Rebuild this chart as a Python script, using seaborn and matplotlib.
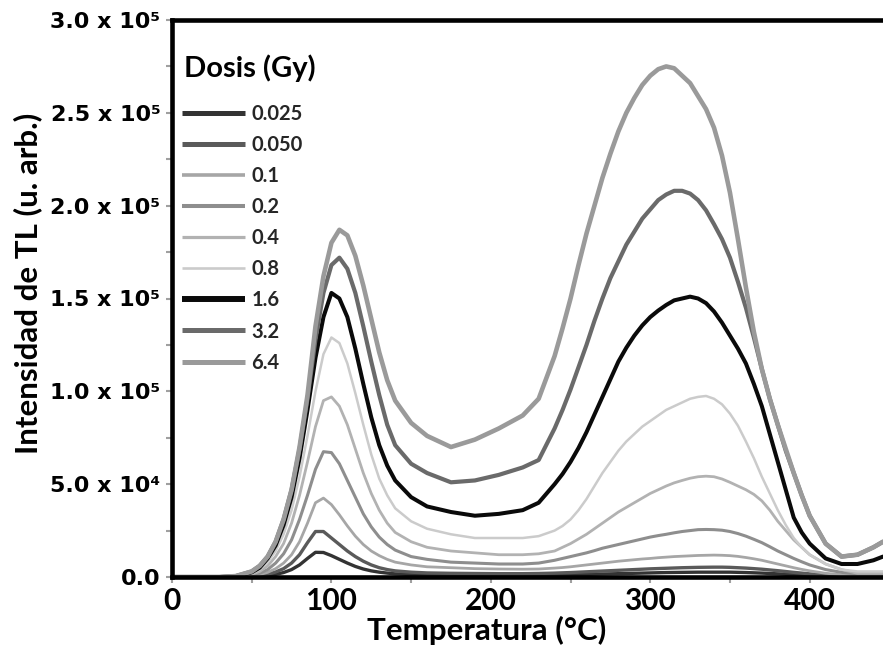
import matplotlib
matplotlib.use("Agg")
import matplotlib.pyplot as plt
import pandas as pd
import seaborn as sns
from matplotlib.lines import Line2D
from matplotlib.ticker import MultipleLocator, FixedLocator, FixedFormatter

# ---------------- data (intensity in units of 1e3 a.u.) ----------------
temps = [0, 30, 40, 50, 55, 60, 65, 70, 75, 80, 85, 90, 95, 100, 105, 110, 115, 120, 125, 130,
         135, 140, 150, 160, 175, 190, 205, 220, 230,
         240, 245, 250, 255, 260, 265, 270, 275, 280, 285, 290, 295, 300, 305, 310, 315, 320,
         325, 330, 335, 340, 345, 350, 355, 360, 365, 370, 375, 380, 385, 390, 395, 400,
         410, 420, 430, 440, 446]

i_0025 = [0, 0, 0, 0.2, 0.4, 0.8, 1.4, 2.4, 4, 6.5, 10, 13.3, 13.2, 11.5, 9.5, 7.5, 5.7, 4.3, 3.3, 2.6,
          2.1, 1.7, 1.3, 1.1, 1, 0.9, 0.9, 0.9, 0.9,
          1, 1.1, 1.2, 1.3, 1.4, 1.5, 1.6, 1.7, 1.8, 1.9, 2, 2.1, 2.2, 2.3, 2.4, 2.45, 2.5,
          2.55, 2.6, 2.6, 2.6, 2.6, 2.6, 2.5, 2.4, 2.25, 2.1, 1.9, 1.7, 1.45, 1.2, 1, 0.8,
          0.5, 0.3, 0.2, 0.1, 0.1]
i_0050 = [0, 0, 0, 0.4, 0.8, 1.5, 2.7, 4.5, 7.5, 12, 18.5, 24.5, 24.5, 21, 17.5, 14, 11, 8.5, 6.5, 5,
          4, 3.3, 2.6, 2.2, 2, 1.9, 1.8, 1.8, 1.9,
          2.1, 2.25, 2.4, 2.6, 2.8, 3, 3.2, 3.4, 3.6, 3.8, 4, 4.2, 4.4, 4.55, 4.7, 4.85, 5,
          5.1, 5.2, 5.25, 5.3, 5.3, 5.2, 5, 4.8, 4.5, 4.2, 3.8, 3.4, 2.95, 2.5, 2.1, 1.7,
          1, 0.6, 0.4, 0.3, 0.3]
i_01 = [0, 0, 0, 0.7, 1.3, 2.5, 4.5, 7.5, 12, 19, 29, 40, 42.5, 39, 33.5, 27.5, 22, 17.5, 14, 11.5,
        9.5, 8, 6.5, 5.5, 5, 4.5, 4.3, 4.2, 4.3,
        4.8, 5.1, 5.5, 6, 6.5, 7, 7.5, 8, 8.5, 8.9, 9.3, 9.7, 10, 10.4, 10.7, 11, 11.2,
        11.4, 11.6, 11.7, 11.8, 11.7, 11.5, 11.1, 10.5, 9.8, 9, 8, 7, 6, 5, 4.1, 3.3,
        2, 1.2, 0.8, 0.5, 0.5]
i_02 = [0, 0, 0.1, 1, 2, 4, 7.5, 12.5, 20, 31, 44, 58, 67.5, 67, 61, 52, 43, 34, 27, 21.5,
        17.5, 14.5, 11, 9.5, 8, 7.5, 7, 7, 7.5,
        9, 10, 11, 12, 13, 14.2, 15.5, 16.5, 17.5, 18.5, 19.5, 20.5, 21.5, 22.3, 23, 23.8, 24.5,
        25, 25.5, 25.6, 25.5, 25.2, 24.5, 23.4, 22, 20.3, 18.5, 16.3, 14, 12, 10, 8.2, 6.5,
        4, 2.5, 1.5, 1, 1]
i_04 = [0, 0, 0.1, 1.5, 3, 6, 11, 18, 29, 44, 62, 81, 95, 97, 92, 82, 69, 56, 45, 36,
        29, 24, 19, 16, 14, 13, 12, 12, 12.5,
        14, 16, 18, 20.5, 23, 26, 29, 32, 35, 37.5, 40, 42.5, 45, 47, 49, 50.7, 52,
        53.2, 54, 54.3, 54, 52.8, 51, 49, 47, 44.5, 41, 36, 30, 25, 20, 16, 12,
        7, 4, 2, 2, 2]
i_08 = [0, 0, 0.2, 2, 4, 8, 14, 23, 36, 54, 76, 100, 120, 129, 126, 115, 99, 82, 66, 53,
        44, 37, 30, 26, 23, 21, 21, 21, 22,
        25, 27.5, 31, 36, 42, 49, 56, 62, 68, 73, 77, 81, 84, 87, 90, 92, 94,
        96, 97, 97.5, 96, 93, 88, 81.5, 73, 64, 54, 45, 36, 28, 21, 16, 12,
        7, 4, 3, 3, 3]
i_16 = [0, 0, 0.3, 2.5, 5, 10, 17, 28, 43, 64, 90, 118, 140, 153, 150, 140, 123, 104, 86, 71,
        60, 52, 43, 38, 35, 33, 34, 36, 40,
        50, 55.5, 62, 69.5, 78, 87.5, 97, 106.5, 116, 123.5, 130, 135.5, 140, 143.5, 146.5, 149, 150,
        151, 150, 147.5, 143, 137, 130, 123, 115, 104, 92, 77, 62, 47, 32, 24, 18,
        10, 7, 7, 9, 11]
i_32 = [0, 0, 0.5, 3, 6, 11, 19, 31, 47, 69, 96, 128, 153, 168, 172, 166, 153, 135, 116, 98,
        82, 71, 61, 56, 51, 52, 55, 59, 63,
        80, 90, 101, 113, 125, 138, 150, 161, 170, 179, 186, 193, 198, 203, 206, 208, 208,
        206.5, 203, 197.5, 190, 182, 172, 159, 145, 129, 112, 96, 82, 68, 56, 44, 33,
        18, 11, 12, 16, 19]
i_64 = [0, 0, 0.5, 3, 6, 11, 19, 31, 47, 70, 98, 135, 162, 180, 187, 184, 173, 157, 139, 121,
        106, 95, 83, 76, 70, 74, 80, 87, 96,
        119, 134, 150, 168, 185, 200, 215, 228, 240, 250, 258, 265, 270, 273.5, 275, 274, 270,
        266, 259, 252, 242, 227, 207, 182, 156, 132, 112, 96, 82, 69, 56, 44, 33,
        18, 11, 12, 16, 19]

doses = ["0.025", "0.050", "0.1", "0.2", "0.4", "0.8", "1.6", "3.2", "6.4"]
series = [i_0025, i_0050, i_01, i_02, i_04, i_08, i_16, i_32, i_64]
for s in series:
    assert len(s) == len(temps), len(s)

x_ticks = [0, 100, 200, 300, 400]
x_tick_labels = ["0", "100", "200", "300", "400"]
y_ticks = [0, 50000, 100000, 150000, 200000, 250000, 300000]
y_tick_labels = ["0.0", "5.0 x 10\u2074", "1.0 x 10\u2075", "1.5 x 10\u2075",
                 "2.0 x 10\u2075", "2.5 x 10\u2075", "3.0 x 10\u2075"]

# ---------------- styling ----------------
colors = ["#333333", "#5a5a5a", "#a6a6a6", "#8e8e8e", "#b2b2b2", "#cbcbcb", "#0a0a0a", "#6a6a6a", "#9a9a9a"]
curve_widths = [2.4, 2.4, 2.0, 2.2, 2.0, 1.8, 2.9, 3.0, 3.3]
legend_widths = [3.6, 3.6, 2.6, 2.9, 2.3, 1.9, 4.3, 3.6, 3.6]

rows = []
for d, vals in zip(doses, series):
    for t, v in zip(temps, vals):
        rows.append({"T": t, "I": v * 1000.0, "dose": d})
df = pd.DataFrame(rows)

sns.set_theme(style="white")
plt.rcParams["font.family"] = ["DejaVu Sans"]
plt.rcParams["lines.solid_joinstyle"] = "round"

fig = plt.figure(figsize=(8.83, 6.49), dpi=100)
ax = fig.add_axes([172 / 883, 72 / 649, 711 / 883, 557 / 649])
ax.set_facecolor("white")

sns.lineplot(data=df, x="T", y="I", hue="dose", size="dose",
             hue_order=doses, size_order=doses,
             palette=dict(zip(doses, colors)), sizes=dict(zip(doses, curve_widths)),
             estimator=None, sort=False, legend=False, ax=ax)
for ln in ax.lines:
    ln.set_solid_joinstyle("round")

ax.set_xlim(0, 446)
ax.set_ylim(0, 300000)

ax.xaxis.set_major_locator(FixedLocator(x_ticks))
ax.xaxis.set_major_formatter(FixedFormatter(x_tick_labels))
ax.xaxis.set_minor_locator(MultipleLocator(50))
ax.yaxis.set_major_locator(FixedLocator(y_ticks))
ax.yaxis.set_major_formatter(FixedFormatter(y_tick_labels))
ax.yaxis.set_minor_locator(MultipleLocator(25000))

for which in ("major", "minor"):
    ax.tick_params(axis="both", which=which, direction="out", length=4.3, width=1.5,
                   color="#a0a0a0", bottom=True, left=True, top=False, right=False)
ax.tick_params(axis="x", which="major", pad=3)
ax.tick_params(axis="y", which="major", pad=4)

for lab in ax.get_xticklabels():
    lab.set_fontfamily("Lato")
    lab.set_fontweight("bold")
    lab.set_fontsize(21.5)
    lab.set_color("black")
for lab in ax.get_yticklabels():
    lab.set_fontfamily("DejaVu Sans")
    lab.set_fontweight("bold")
    lab.set_fontsize(16)
    lab.set_color("black")

for side in ("left", "bottom", "top"):
    ax.spines[side].set_visible(True)
    ax.spines[side].set_color("black")
    ax.spines[side].set_linewidth(3.3)
ax.spines["right"].set_visible(False)

ax.set_xlabel("Temperatura (\u00b0C)", fontfamily="Lato", fontweight="bold", fontsize=22.5, color="black")
ax.set_ylabel("Intensidad de TL (u. arb.)", fontfamily="Lato", fontweight="bold", fontsize=22.5, color="black")
ax.xaxis.set_label_coords(0.442, -0.070)
ax.yaxis.set_label_coords(-0.183, 0.527)

# legend
ax.text(12 / 711, (577 - 68) / 557, "Dosis (Gy)", transform=ax.transAxes,
        fontfamily="Lato", fontweight="bold", fontsize=21, color="black", ha="left", va="center")
handles = [Line2D([], [], color=c, lw=w, solid_capstyle="butt") for c, w in zip(colors, legend_widths)]
leg = ax.legend(handles, doses, loc="upper left", bbox_to_anchor=(10 / 711, (577 - 104) / 557),
                frameon=False, borderpad=0, borderaxespad=0, handlelength=3.15, handletextpad=0.3,
                labelspacing=0.55, prop={"family": "Lato", "weight": "bold", "size": 14.5})

fig.savefig("out.png", dpi=100, facecolor="white")
